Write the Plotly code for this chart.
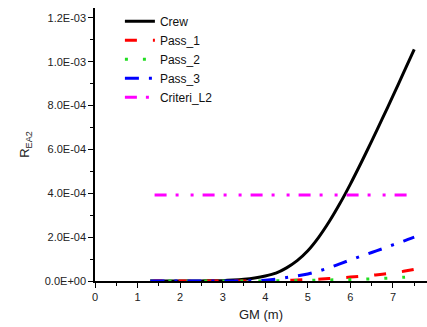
import plotly.graph_objects as go

gm = [1.3, 2.0, 2.5, 3.0, 3.25, 3.5, 3.75, 4.0, 4.25, 4.5, 4.75, 5.0, 5.25, 5.5,
      5.75, 6.0, 6.25, 6.5, 6.75, 7.0, 7.25, 7.5]
crew = [0, 0, 5e-7, 1.5e-6, 4e-6, 8e-6, 1.4e-5, 2.3e-5, 3.6e-5, 6.0e-5, 9.3e-5, 1.38e-4,
        1.98e-4, 2.70e-4, 3.52e-4, 4.42e-4, 5.38e-4, 6.38e-4, 7.40e-4, 8.44e-4, 9.50e-4, 1.056e-3]
pass_1 = [0, 0, 0, 0, 0, 0, 0, 1e-6, 2e-6, 3e-6, 4.5e-6, 6e-6, 8e-6, 1.1e-5,
          1.4e-5, 1.8e-5, 2.2e-5, 2.6e-5, 3.1e-5, 3.7e-5, 4.4e-5, 5.3e-5]
pass_2 = [0, 0, 0, 0, 0, 0, 0, 5e-7, 1e-6, 1.5e-6, 2e-6, 3e-6, 4e-6, 5e-6,
          6e-6, 7e-6, 8.5e-6, 1.0e-5, 1.2e-5, 1.4e-5, 1.7e-5, 2.0e-5]
pass_3 = [0, 0, 0, 0, 0, 5e-7, 1e-6, 3e-6, 8e-6, 1.6e-5, 2.3e-5, 3.2e-5, 4.5e-5, 6.0e-5,
          7.8e-5, 9.6e-5, 1.13e-4, 1.3e-4, 1.47e-4, 1.65e-4, 1.82e-4, 2.0e-4]
crit_x = [1.4, 7.5]
crit_y = [3.92e-4, 3.92e-4]

y_tickvals = [0, 2e-4, 4e-4, 6e-4, 8e-4, 1.0e-3, 1.2e-3]
y_ticktext = ["0.0E+00", "2.0E-04", "4.0E-04", "6.0E-04", "8.0E-04", "1.0E-03", "1.2E-03"]
x_tickvals = [0, 1, 2, 3, 4, 5, 6, 7]

fig = go.Figure()
fig.add_trace(go.Scatter(x=gm, y=crew, name="Crew", mode="lines",
                         line=dict(color="black", width=3, shape="spline", smoothing=0.8)))
fig.add_trace(go.Scatter(x=gm, y=pass_1, name="Pass_1", mode="lines",
                         line=dict(color="red", width=3, dash="12px,16px", shape="spline")))
fig.add_trace(go.Scatter(x=gm, y=pass_2, name="Pass_2", mode="lines",
                         line=dict(color="#22dd22", width=3, dash="3px,15px", shape="spline")))
fig.add_trace(go.Scatter(x=gm, y=pass_3, name="Pass_3", mode="lines",
                         line=dict(color="blue", width=3, dash="14px,10px,3px,10px", shape="spline")))
fig.add_trace(go.Scatter(x=crit_x, y=crit_y, name="Criteri_L2", mode="lines",
                         line=dict(color="magenta", width=3, dash="12px,9px,3px,12px,3px,9px")))

fig.update_layout(
    width=427, height=327,
    margin=dict(l=95, r=0, t=8, b=46),
    paper_bgcolor="white", plot_bgcolor="white",
    font=dict(family="Liberation Sans, Arial, sans-serif", color="#222", size=11),
    showlegend=True,
    legend=dict(x=0.075, y=1.005, xanchor="left", yanchor="top",
                bgcolor="rgba(0,0,0,0)", font=dict(size=12, color="#111"),
                tracegroupgap=0, itemwidth=30),
    xaxis=dict(range=[0, 7.8], tickvals=x_tickvals, showgrid=False, zeroline=False,
               showline=True, linecolor="black", linewidth=1.5,
               ticks="outside", ticklen=5, tickwidth=1.2, tickcolor="black",
               minor=dict(dtick=0.5, ticks="outside", ticklen=3, tickcolor="black", tickwidth=1),
               title=dict(text="GM (m)", font=dict(size=13, color="#222"), standoff=8),
               tickfont=dict(size=11)),
    yaxis=dict(range=[0, 1.245e-3], tickvals=y_tickvals, ticktext=y_ticktext,
               showgrid=False, zeroline=False,
               showline=True, linecolor="black", linewidth=1.5,
               ticks="outside", ticklen=5, tickwidth=1.2, tickcolor="black",
               minor=dict(dtick=1e-4, ticks="outside", ticklen=3, tickcolor="black", tickwidth=1),
               title=dict(text="R<sub>EA2</sub>", font=dict(size=13, color="#222"), standoff=12),
               tickfont=dict(size=11)),
)

fig.write_html("out.html")
